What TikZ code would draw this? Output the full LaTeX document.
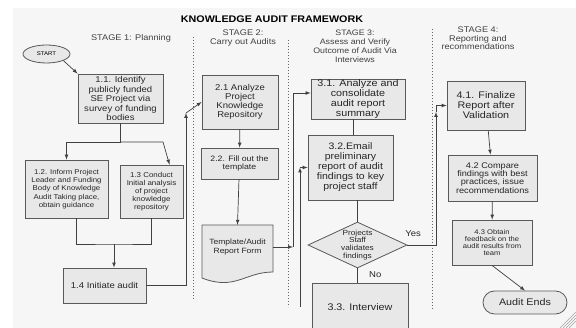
\documentclass[tikz,border=0pt]{standalone}
\usepackage{fontspec}
\setmainfont{Liberation Sans}[FakeStretch=1.12]
\usepackage{xcolor}
\usepackage{tikz}
\usetikzlibrary{shapes,arrows,positioning}

\newcommand{\txtsize}[2]{\fontsize{#1}{#2}\selectfont}

\begin{document}
\begin{tikzpicture}[
    x=1pt, y=-1pt,
    box/.style={rectangle, draw=black!65, line width=0.8pt, fill=gray!18, align=center, inner sep=0pt, text=black!85},
    stage/.style={align=center, text=black!75, font=\txtsize{8.2}{8.8}},
    arrow/.style={-latex, line width=0.7pt, draw=black!75},
    link/.style={line width=0.7pt, draw=black!75},
    sep/.style={line width=1pt, draw=black!60, dash pattern=on 1.4pt off 1.6pt}
]
    \useasboundingbox (0,0) rectangle (576,328);
    \fill[gray!7] (13,8) rectangle (576,328);

    % headings
    \node[font=\bfseries\txtsize{9.6}{11}] (title) at (272,19) {KNOWLEDGE AUDIT FRAMEWORK};
    \node[stage] (stage1) at (131,38) {STAGE 1: Planning};
    \node[stage] (stage2) at (243,38) {STAGE 2:\\Carry out Audits};
    \node[stage, font=\txtsize{7.9}{9}] (stage3) at (355,46.5) {STAGE 3:\\Assess and Verify\\Outcome of Audit Via\\Interviews};
    \node[stage, font=\txtsize{8.2}{8.5}] (stage4) at (478,38.5) {STAGE 4:\\Reporting and\\recommendations};

    % stage separators
    \draw[sep] (193,37) -- (193,300);
    \draw[sep] (288,40) -- (288,307);
    \draw[sep] (432,29) -- (432,310);

    % stage 1
    \node[ellipse, draw=black!65, line width=0.8pt, fill=gray!18, minimum width=47, minimum height=18, inner sep=0pt, font=\txtsize{5.4}{6}] (start) at (46.5,54) {START};
    \node[box, minimum width=85, minimum height=49, font=\txtsize{8.5}{9.5}] (identify) at (120.5,98.5) {1.1. Identify\\publicly funded\\SE Project via\\survey of funding\\bodies};
    \node[box, minimum width=83, minimum height=58, font=\txtsize{7}{8.3}] (inform) at (66.5,189) {1.2. Inform Project\\Leader and Funding\\Body of Knowledge\\Audit Taking place,\\obtain guidance};
    \node[box, minimum width=63, minimum height=53, font=\txtsize{7.1}{7.9}] (conduct) at (151.5,191.5) {1.3 Conduct\\Initial analysis\\of project\\knowledge\\repository};
    \node[box, minimum width=83, minimum height=35, font=\txtsize{8.5}{9.5}] (initiate) at (104.5,285.5) {1.4 Initiate audit};

    % stage 2
    \node[box, minimum width=76, minimum height=54, font=\txtsize{8.5}{8.9}] (analyze) at (240,102) {2.1 Analyze\\Project\\Knowledge\\Repository};
    \node[box, minimum width=77, minimum height=31, font=\txtsize{7.8}{8.8}] (fill) at (239.5,163.5) {2.2. Fill out the\\template};
    \filldraw[draw=black!65, line width=0.8pt, fill=gray!18] (202,225) -- (273,225) -- (273,272)
        .. controls (245,272) and (235,291) .. (202,278) -- cycle;
    \node[align=center, inner sep=0pt, minimum width=71, minimum height=44, text=black!85, font=\txtsize{7.6}{8.8}] (template) at (237.5,247) {Template/Audit\\Report Form};

    % stage 3
    \node[box, minimum width=94, minimum height=40, font=\txtsize{9.6}{10}] (consolidate) at (358,99) {3.1. Analyze and\\consolidate\\audit report\\summary};
    \node[box, minimum width=85, minimum height=65, font=\txtsize{9.4}{10}] (email) at (350.5,167.5) {3.2.Email\\preliminary\\report of audit\\findings to key\\project staff};
    \node[diamond, draw=black!65, line width=0.8pt, fill=gray!18, minimum width=99, minimum height=46, inner sep=0pt,
        label={[align=center, text=black!85, font=\txtsize{7.4}{7.9}]center:Projects\\Staff\\validates\\findings}] (validate) at (357.5,245) {};
    \node[box, minimum width=96, minimum height=48, font=\txtsize{9.6}{11}] (interview) at (360,307) {3.3. Interview};

    % stage 4
    \node[box, minimum width=78, minimum height=49, font=\txtsize{9.6}{10}] (finalize) at (486,105.5) {4.1. Finalize\\Report after\\Validation};
    \node[box, minimum width=89, minimum height=46, font=\txtsize{8.2}{8.3}] (compare) at (492.5,178) {4.2 Compare\\findings with best\\practices, issue\\recommendations};
    \node[box, minimum width=80, minimum height=45, font=\txtsize{6.8}{7.2}] (feedback) at (492,242.5) {4.3 Obtain\\feedback on the\\audit results from\\team};
    \node[box, rounded corners=11.5pt, minimum width=84, minimum height=23, font=\txtsize{9.6}{11}] (finish) at (525,302.5) {Audit Ends};

    % joints
    \coordinate (split) at (120.5,142);
    \coordinate (splitr) at (163,142);
    \coordinate (merge) at (114,244);
    \coordinate (up1) at (186,113);
    \coordinate (up2) at (293,247);
    \coordinate (back) at (300,307);
    \coordinate (backtop) at (300,167.5);
    \coordinate (yes) at (436,112);

    % connectors
    \draw[arrow] (start.south east) -- (identify.north west);
    \draw[link] (identify.south) -- (split);
    \draw[arrow] (split) -| (inform.north);
    \draw[arrow] (split) -- (splitr) -- ([xshift=18pt]conduct.north);
    \draw[link] ([xshift=10pt]inform.south) |- (merge) -| (conduct.south);
    \draw[arrow] (merge) -- (merge |- initiate.north);
    \draw[arrow] (initiate.east) -| (up1);
    \draw[arrow] (up1) -- (analyze.west);
    \draw[arrow] (analyze) -- (fill);
    \draw[arrow] (fill) -- (template.north);
    \draw[arrow] (template.east) -- (up2);
    \draw[arrow] (up2) |- ([yshift=6pt]consolidate.west);
    \draw[link] ([xshift=2.5pt]email.north |- consolidate.south) -- ([xshift=2.5pt]email.north);
    \draw[link] (validate.north |- email.south) -- (validate.north);
    \draw[link] (validate.south) -- node[pos=0.45, right=8pt, font=\txtsize{8.5}{9}, text=black!85] {No} (validate.south |- interview.north);
    \draw[arrow] (back) -- (backtop);
    \draw[arrow] (backtop) -- (email.west);
    \draw[arrow] (validate.east) -- node[above=5pt, pos=0.2, font=\txtsize{8.5}{9}, text=black!85] {Yes} (validate.east -| yes) -- (yes);
    \draw[arrow] (yes) |- (finalize.west);
    \draw[arrow] (finalize) -- (compare);
    \draw[arrow] (compare) -- (feedback);
    \draw[arrow] (feedback.south) -- (finish.north);

    % page corner
    \foreach \d in {0,3,6,9}
        \draw[gray!70, line width=0.4pt] (560+\d,328) -- (576,312+\d);
\end{tikzpicture}
\end{document}
